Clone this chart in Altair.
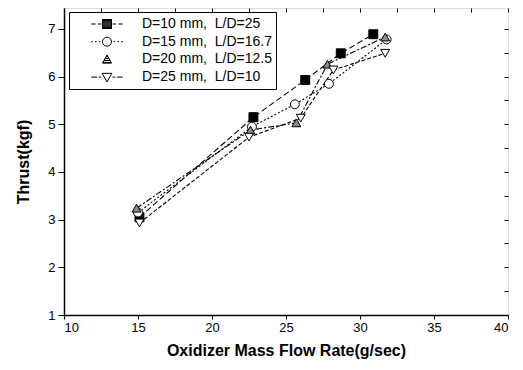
import altair as alt
import pandas as pd

series = ["D=10 mm,\u00a0 L/D=25", "D=15 mm,\u00a0 L/D=16.7",
          "D=20 mm,\u00a0 L/D=12.5", "D=25 mm,\u00a0 L/D=10"]

x_d10 = [15.1, 22.8, 26.3, 28.7, 30.9]
y_d10 = [3.05, 5.15, 5.93, 6.49, 6.89]
x_d15 = [15.0, 22.7, 25.6, 27.9, 31.8]
y_d15 = [3.15, 4.95, 5.42, 5.85, 6.78]
x_d20 = [14.9, 22.6, 25.7, 27.8, 31.7]
y_d20 = [3.24, 4.88, 5.03, 6.26, 6.83]
x_d25 = [15.1, 22.5, 26.0, 28.2, 31.7]
y_d25 = [2.93, 4.73, 5.13, 6.14, 6.49]

x_ticks = [10, 15, 20, 25, 30, 35, 40]
y_ticks = [1, 2, 3, 4, 5, 6, 7]
x_minor = [10 + 2.5 * i for i in range(13)]
y_minor = [1 + 0.5 * i for i in range(13)]

rows = []
for s, xs, ys in zip(series, [x_d10, x_d15, x_d20, x_d25], [y_d10, y_d15, y_d20, y_d25]):
    for a, b in zip(xs, ys):
        rows.append({"series": s, "x": a, "y": b})
df = pd.DataFrame(rows)

dashes = [[6, 3], [2, 2], [6, 2, 2, 2], [4, 2]]
shapes = ["square", "circle", "triangle-up", "triangle-down"]
fills = ["black", "white", "#8c8c8c", "white"]

# legend glyphs: short line pieces plus marker outline (fill drawn as hatch)
sq_fill = "".join(f"M-0.6,{-0.6 + 0.12 * i:.2f}H0.6" for i in range(11))
tri_fill = "".join(
    f"M{-0.6 * (yy + 0.6) / 1.1:.3f},{yy:.2f}H{0.6 * (yy + 0.6) / 1.1:.3f}"
    for yy in [-0.35, -0.1, 0.15, 0.4])
legend_paths = [
    "M-2.1,0H-1.5M-1.2,0H-0.75M0.75,0H1.2M1.5,0H2.1M-0.6,-0.6H0.6V0.6H-0.6Z" + sq_fill,
    "M-2.1,0H-1.9M-1.6,0H-1.4M-1.1,0H-0.9M0.9,0H1.1M1.4,0H1.6M1.9,0H2.1"
    "M-0.6,0A0.6,0.6 0 1,0 0.6,0A0.6,0.6 0 1,0 -0.6,0Z",
    "M0,-0.6L0.6,0.5L-0.6,0.5Z" + tri_fill,
    "M-2.1,0H-1.3M-1.1,0H-0.75M0.75,0H1.1M1.3,0H2.1M-0.65,-0.5H0.65L0,0.65Z",
]

font = "Liberation Sans"

x_main = alt.X("x:Q", scale=alt.Scale(domain=[10, 40], nice=False, zero=False),
               axis=alt.Axis(values=x_ticks, title="Oxidizer Mass Flow Rate(g/sec)",
                             titleFontSize=16, titleFontWeight="bold", titlePadding=8,
                             labelFontSize=13, labelPadding=2, tickSize=4,
                             grid=False, domainColor="black", domainWidth=1.5,
                             tickColor="black", labelColor="black", titleColor="black"))
y_main = alt.Y("y:Q", scale=alt.Scale(domain=[1, 7.44], nice=False, zero=False),
               axis=alt.Axis(values=y_ticks, title="Thrust(kgf)",
                             titleFontSize=16, titleFontWeight="bold", titlePadding=16,
                             labelFontSize=13, labelPadding=3, tickSize=6,
                             grid=False, domainColor="black", domainWidth=1.5,
                             tickColor="black", labelColor="black", titleColor="black"))

lines = alt.Chart(df).mark_line(color="black", strokeWidth=1.1).encode(
    x=x_main, y=y_main,
    strokeDash=alt.StrokeDash("series:N", scale=alt.Scale(domain=series, range=dashes), legend=None),
)

points = alt.Chart(df).mark_point(filled=True, stroke="black", strokeWidth=1, opacity=1, size=80).encode(
    x=alt.X("x:Q", axis=None), y=alt.Y("y:Q", axis=None),
    shape=alt.Shape("series:N", scale=alt.Scale(domain=series, range=shapes), legend=None),
    fill=alt.Fill("series:N", scale=alt.Scale(domain=series, range=fills), legend=None),
)

leg = alt.Legend(orient="none", legendX=5, legendY=4, title=None,
                 strokeColor="black", fillColor="white", padding=4,
                 symbolSize=225, symbolOffset=26, labelOffset=27,
                 symbolStrokeColor="black", symbolStrokeWidth=1,
                 symbolFillColor="transparent", symbolOpacity=1,
                 labelFont=font, labelFontSize=14, labelColor="black",
                 rowPadding=2.7, labelLimit=300)

legend_layer = alt.Chart(df).transform_filter("false").mark_point(
    filled=False, color="black", strokeWidth=1, opacity=1).encode(
    x=alt.X("x:Q", axis=None), y=alt.Y("y:Q", axis=None),
    shape=alt.Shape("series:N", scale=alt.Scale(domain=series, range=legend_paths), legend=leg),
)

tick_layer = alt.Chart(df).transform_filter("false").mark_point(opacity=0).encode(
    x=alt.X("x:Q", axis=alt.Axis(orient="top", values=x_minor, labels=False, title=None,
                                 domain=False, tickSize=4, offset=-4, tickColor="black", grid=False)),
    y=alt.Y("y:Q", axis=alt.Axis(orient="right", values=y_minor, labels=False, title=None,
                                 domain=False, tickSize=4, offset=-4, tickColor="black", grid=False)),
)

chart = alt.layer(lines, points, legend_layer, tick_layer).resolve_scale(
    shape="independent"
).resolve_axis(x="independent", y="independent").properties(
    width=444, height=307,
    autosize=alt.AutoSizeParams(type="none"),
    padding={"left": 56, "top": 0, "right": 7, "bottom": 47},
).configure_view(stroke="black", strokeWidth=1.5).configure(font=font)

chart.save("out.html", embed_options={"renderer": "svg", "actions": False})
